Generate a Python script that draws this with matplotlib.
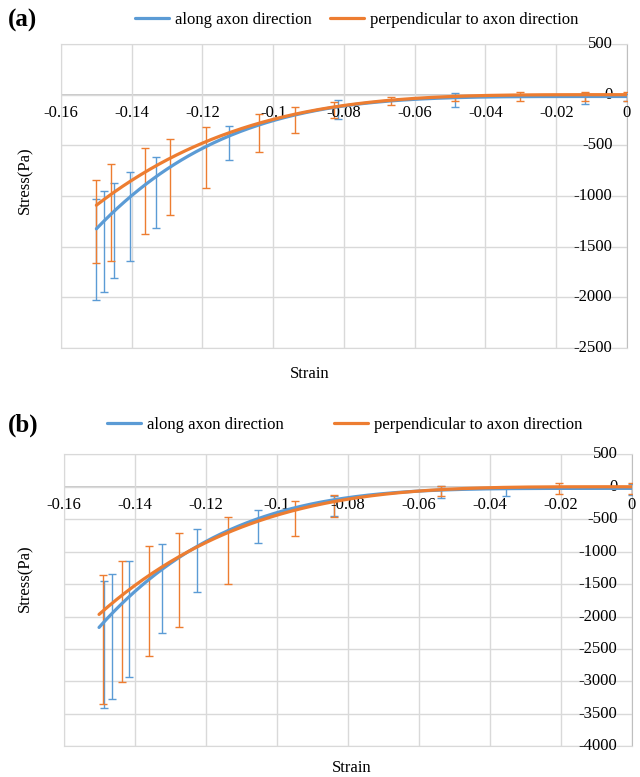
import matplotlib
matplotlib.use('Agg')
import matplotlib.pyplot as plt
import numpy as np

plt.rcParams['font.family'] = ['Liberation Serif', 'DejaVu Serif']
plt.rcParams['font.size'] = 12

BLUE = '#5B9BD5'
ORANGE = '#ED7D31'
GRID = '#D9D9D9'
AXIS = '#BFBFBF'

LABELS = ['along axon direction', 'perpendicular to axon direction']

# (a) mean stress and standard deviation at each strain
a_along_strain = [-0.150, -0.1478, -0.1449, -0.1406, -0.1331, -0.1125, -0.0816, -0.0487, -0.012, 0.0]
a_along_mean = [-1529, -1447, -1341, -1202, -965, -479, -150, -54, -38, -30]
a_along_sd = [500, 497, 473, 439, 350, 169, 94, 72, 56, 35]

a_perp_strain = [-0.150, -0.1459, -0.1362, -0.1293, -0.119, -0.104, -0.0938, -0.0828,
                 -0.0667, -0.0487, -0.0303, -0.012, 0.0]
a_perp_mean = [-1253, -1163, -952, -811, -620, -377, -250, -150, -62, -35, -18, -20, -20]
a_perp_sd = [407, 475, 426, 377, 301, 189, 128, 81, 41, 27, 43, 45, 45]

# (b) mean stress and standard deviation at each strain
b_along_strain = [-0.1485, -0.1464, -0.1415, -0.1323, -0.1223, -0.1054, -0.084, -0.0537, -0.0354, 0.0]
b_along_mean = [-2430, -2309, -2040, -1569, -1130, -612, -300, -80, -80, -40]
b_along_sd = [984, 961, 892, 687, 485, 254, 150, 90, 60, 80]

b_perp_strain = [-0.1488, -0.1436, -0.1358, -0.1274, -0.1137, -0.0948, -0.084, -0.0537, -0.0206, 0.0]
b_perp_mean = [-2350, -2076, -1761, -1435, -979, -486, -297, -63, -32, -28]
b_perp_sd = [992, 938, 843, 728, 518, 267, 169, 80, 85, 82]

# power-law fits: stress = offset - coef * (-strain) ** power
a_along_fit = (3.77e6, 4.2, -18)
a_perp_fit = (1.22e6, 3.7, 0)
b_along_fit = (7.48e6, 4.3, -25)
b_perp_fit = (2.2e6, 3.7, 0)

W, H = 640, 777
fig = plt.figure(figsize=(W / 100, H / 100), dpi=100)


def px_axes(left, top, right, bottom):
    return fig.add_axes([left / W, 1 - bottom / H, (right - left) / W, (bottom - top) / H])


def fit_curve(fit):
    coef, power, offset = fit
    s = np.linspace(-0.15, 0, 300)
    return s, offset - coef * (-s) ** power


def draw_panel(ax, along, perp, fits, ymin, tag, legend_y, legend_x, colspace,
               ylabel_y, xlabel_x, xlabel_y):
    ax.set_xlim(-0.16, 0)
    ax.set_ylim(ymin, 500)
    xt = np.arange(-0.16, 0.001, 0.02)
    yt = np.arange(ymin, 501, 500)
    ax.set_xticks(xt)
    ax.set_yticks(yt)
    ax.grid(True, color=GRID, lw=1)
    ax.tick_params(length=0, labelbottom=False, labelleft=False)
    for side in ['left', 'top', 'bottom']:
        ax.spines[side].set_color(GRID)
    ax.spines['right'].set_color(AXIS)
    ax.axhline(0, color=AXIS, lw=1.2, zorder=1)

    lines = []
    for (s, m, sd), fit, c in zip([along, perp], fits, [BLUE, ORANGE]):
        ax.errorbar(s, m, yerr=sd, fmt='none', ecolor=c, elinewidth=1,
                    capsize=2.6, capthick=1, zorder=3)
        xs, ys = fit_curve(fit)
        ln, = ax.plot(xs, ys, color=c, lw=2.3, zorder=4, solid_capstyle='round')
        lines.append(ln)

    for v in xt:
        lab = f'{v:.2f}'.rstrip('0').rstrip('.') if abs(v) > 1e-9 else '0'
        ax.annotate(lab, xy=(v, 0), xytext=(0, -13.5), textcoords='offset points',
                    ha='center', va='center', annotation_clip=False)
    for v in yt:
        ax.annotate(f'{int(v)}', xy=(0, v), xytext=(-10.5, 0), textcoords='offset points',
                    ha='right', va='center', annotation_clip=False)

    fig.text(8 / W, 1 - legend_y / H, tag, fontsize=18, fontweight='bold', va='center', ha='left')
    fig.legend(lines, LABELS, loc='center', bbox_to_anchor=(legend_x / W, 1 - legend_y / H),
               ncol=2, frameon=False, handlelength=2.0, handletextpad=0.4,
               columnspacing=colspace, fontsize=12)
    fig.text(25 / W, 1 - ylabel_y / H, 'Stress(Pa)', rotation=90, ha='center', va='center')
    fig.text(xlabel_x / W, 1 - xlabel_y / H, 'Strain', ha='center', va='center')


ax_a = px_axes(61, 44, 627, 348)
draw_panel(ax_a,
           (a_along_strain, a_along_mean, a_along_sd),
           (a_perp_strain, a_perp_mean, a_perp_sd),
           (a_along_fit, a_perp_fit), -2500, '(a)', 20, 357, 1.1, 180, 310, 374)

ax_b = px_axes(63.5, 454.3, 632, 746.3)
draw_panel(ax_b,
           (b_along_strain, b_along_mean, b_along_sd),
           (b_perp_strain, b_perp_mean, b_perp_sd),
           (b_along_fit, b_perp_fit), -4000, '(b)', 425, 345, 3.0, 578, 352, 768)

fig.savefig('out.png', dpi=100)
